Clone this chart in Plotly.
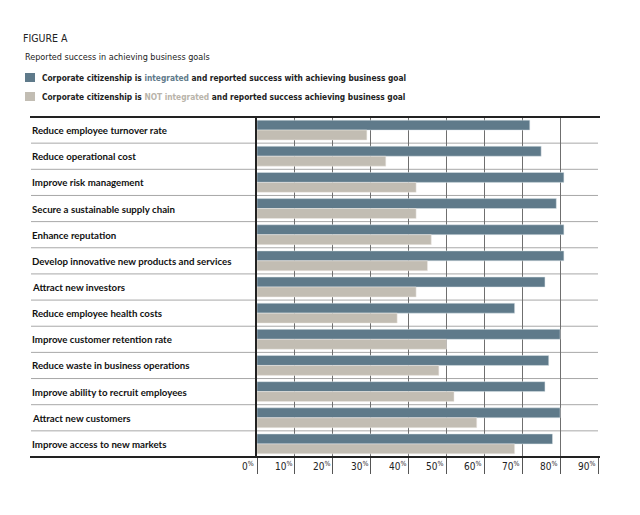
import plotly.graph_objects as go

categories = [
    "Reduce employee turnover rate",
    "Reduce operational cost",
    "Improve risk management",
    "Secure a sustainable supply chain",
    "Enhance reputation",
    "Develop innovative new products and services",
    "Attract new investors",
    "Reduce employee health costs",
    "Improve customer retention rate",
    "Reduce waste in business operations",
    "Improve ability to recruit employees",
    "Attract new customers",
    "Improve access to new markets",
]
integrated = [72, 75, 81, 79, 81, 81, 76, 68, 80, 77, 76, 80, 78]
not_integrated = [29, 34, 42, 42, 46, 45, 42, 37, 50, 48, 52, 58, 68]
tick_vals = [0, 10, 20, 30, 40, 50, 60, 70, 80, 90]
tick_labels = ["0", "10", "20", "30", "40", "50", "60", "70", "80", "90"]

DARK = "#5f7a8a"
LIGHT = "#c2bdb3"
LABEL_FONT = "Lato"
NARROW = "DejaVu Sans Condensed, Roboto, sans-serif"

OFF = 8  # page body margin
W, H = 624, 499
L, R, T, B = 249, 34, 109, 50
PW, PH = W - L - R, H - T - B


def px_x(px):
    return (px - OFF - L) / PW


def px_y(py):
    return 1 + (T - (py - OFF)) / PH


fig = go.Figure()
fig.add_trace(go.Bar(
    y=categories, x=integrated, orientation="h", marker_color=DARK,
    marker_line=dict(color="#dfe7eb", width=0.5), showlegend=False,
    name="Integrated"))
fig.add_trace(go.Bar(
    y=categories, x=not_integrated, orientation="h", marker_color=LIGHT,
    marker_line=dict(color="#eeebe6", width=0.5), showlegend=False,
    name="Not integrated"))

shapes = []
for i in range(len(categories) - 1):
    shapes.append(dict(type="line", xref="paper", yref="y",
                       x0=px_x(31), x1=1, y0=i + 0.5, y1=i + 0.5,
                       line=dict(color="#a8a8a8", width=1), layer="below"))
for yy in (0, 1):
    shapes.append(dict(type="line", xref="paper", yref="paper",
                       x0=px_x(30), x1=px_x(600), y0=yy, y1=yy,
                       line=dict(color="#222222", width=2)))
for (top, bot), col in (((73, 82), DARK), ((92, 101), LIGHT)):
    shapes.append(dict(type="rect", xref="paper", yref="paper",
                       x0=px_x(25), x1=px_x(35), y0=px_y(bot), y1=px_y(top),
                       fillcolor=col, line=dict(width=0)))

annotations = []
for c in categories:
    annotations.append(dict(
        text=c, x=px_x(30), xref="paper", y=c, yref="y",
        xanchor="left", yanchor="middle", showarrow=False,
        font=dict(family=LABEL_FONT, size=9.7, color="#111111", weight="bold")))
for v, lab in zip(tick_vals, tick_labels):
    annotations.append(dict(
        text=f"{lab}<sup>%</sup>", x=v, xref="x", y=0, yref="paper",
        xanchor="right", yanchor="top", xshift=-1, yshift=-1, showarrow=False,
        font=dict(family=NARROW, size=10, color="#222222")))

annotations.append(dict(
    text="Reported success in achieving business goals", x=px_x(23), xref="paper",
    y=px_y(57), yref="paper", xanchor="left", yanchor="middle", showarrow=False,
    font=dict(family=NARROW, size=9, color="#222222")))
annotations.append(dict(
    text=("Corporate citizenship is <span style='color:%s'>integrated</span> "
          "and reported success with achieving business goal") % DARK,
    x=px_x(40), xref="paper", y=px_y(78), yref="paper",
    xanchor="left", yanchor="middle", showarrow=False,
    font=dict(family=NARROW, size=8.3, color="#222222", weight="bold")))
annotations.append(dict(
    text=("Corporate citizenship is <span style='color:%s'>NOT integrated</span> "
          "and reported success achieving business goal") % "#b9b4aa",
    x=px_x(40), xref="paper", y=px_y(97), yref="paper",
    xanchor="left", yanchor="middle", showarrow=False,
    font=dict(family=NARROW, size=8.3, color="#222222", weight="bold")))

fig.update_layout(
    width=W, height=H,
    margin=dict(l=L, r=R, t=T, b=B),
    paper_bgcolor="white", plot_bgcolor="white",
    barmode="group", bargap=0.24, bargroupgap=0,
    title=dict(text="FIGURE A", x=(23 - OFF) / W, xref="container", xanchor="left",
               y=1 - (38 - OFF) / H, yref="container", yanchor="middle",
               font=dict(family=NARROW, size=10.5, color="#222222")),
    shapes=shapes, annotations=annotations,
    xaxis=dict(range=[0, 90], tickvals=tick_vals, showticklabels=False,
               ticks="outside", ticklen=16, tickcolor="#555555", tickwidth=1,
               showgrid=True, gridcolor="#6f6f6f", gridwidth=1,
               zeroline=False, showline=False, fixedrange=True),
    yaxis=dict(range=[len(categories) - 0.5, -0.5], showticklabels=False,
               ticks="", showgrid=False, zeroline=False,
               showline=True, linecolor="#222222", linewidth=2, fixedrange=True),
)

fig.write_html("out.html")
